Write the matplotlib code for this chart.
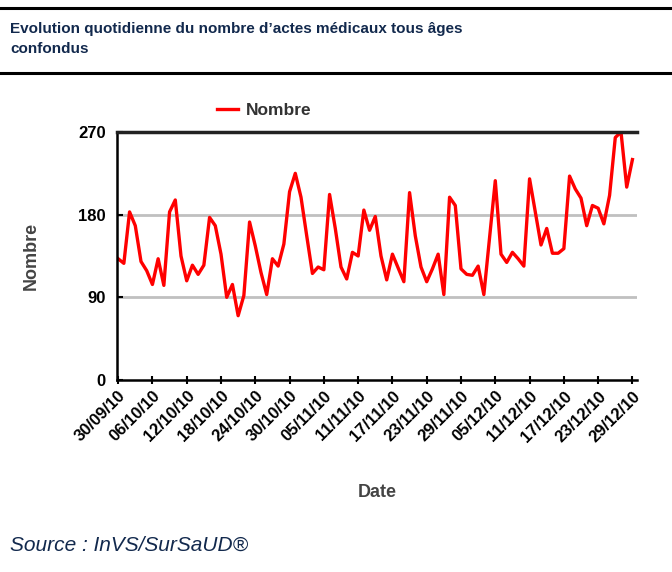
import matplotlib.pyplot as plt
import numpy as np

# daily counts, 30/09/10 -> 29/12/10
nombre = [132, 127, 183, 168, 129, 119, 104, 132, 103, 183,
          196, 135, 108, 125, 115, 125, 177, 168, 137, 90,
          104, 70, 92, 172, 146, 117, 93, 132, 124, 148,
          205, 225, 199, 157, 116, 123, 120, 202, 165, 123,
          110, 139, 135, 185, 163, 178, 135, 109, 137, 122,
          107, 204, 157, 123, 107, 121, 137, 93, 199, 190,
          121, 115, 114, 124, 93, 155, 217, 137, 128, 139,
          132, 124, 219, 183, 147, 165, 138, 138, 143, 222,
          208, 198, 168, 190, 187, 170, 201, 264, 270, 210,
          240]
date_labels = ['30/09/10', '06/10/10', '12/10/10', '18/10/10', '24/10/10',
               '30/10/10', '05/11/10', '11/11/10', '17/11/10', '23/11/10',
               '29/11/10', '05/12/10', '11/12/10', '17/12/10', '23/12/10',
               '29/12/10']
y_ticks = [0, 90, 180, 270]

plt.rcParams['font.family'] = ['Liberation Sans', 'DejaVu Sans']
navy = '#12294d'

fig = plt.figure(figsize=(6.72, 5.72), dpi=100)

# header rules and title
fig.add_artist(plt.Line2D([0, 1], [1 - 8 / 572, 1 - 8 / 572], color='black', lw=2.2))
fig.add_artist(plt.Line2D([0, 1], [1 - 73 / 572, 1 - 73 / 572], color='black', lw=2.2))
fig.text(10 / 672, 1 - 39 / 572,
         'Evolution quotidienne du nombre d\u2019actes médicaux tous âges\nconfondus',
         fontsize=11, fontweight='bold', color=navy, ha='left', va='center',
         linespacing=1.5)
fig.text(10 / 672, 1 - 545 / 572, 'Source : InVS/SurSaUD®', fontsize=15,
         style='italic', color=navy, ha='left', va='center')

ax = fig.add_axes([117 / 672, 1 - 380 / 572, 520 / 672, 248 / 572])
x = np.arange(len(nombre))
ax.plot(x, nombre, color='#ff0000', lw=2.4, label='Nombre')

ax.set_xlim(-0.2, 90.8)
ax.set_ylim(0, 270)
ax.set_yticks(y_ticks)
ax.set_yticklabels([str(v) for v in y_ticks], fontsize=12, fontweight='bold')
ax.set_xticks(np.arange(0, 91, 6))
ax.set_xticklabels(date_labels, rotation=45, ha='right', rotation_mode='anchor',
                   fontsize=12, fontweight='bold')
ax.tick_params(axis='x', direction='inout', length=6, width=1.5, pad=3)
ax.tick_params(axis='y', direction='in', length=4, width=1.5, pad=8)

for v in [90, 180]:
    ax.axhline(v, color='#c0c0c0', lw=2, zorder=0)
ax.spines['right'].set_visible(False)
ax.spines['top'].set_linewidth(2.5)
ax.spines['top'].set_color('#222222')
ax.spines['left'].set_linewidth(1.8)
ax.spines['bottom'].set_linewidth(1.8)

ax.set_ylabel('Nombre', fontsize=13, fontweight='bold', color='#444444', labelpad=28)
ax.set_xlabel('Date', fontsize=13, fontweight='bold', color='#444444', labelpad=28)

ax.legend(loc='center left', bbox_to_anchor=(217 / 672, 1 - 110 / 572),
          bbox_transform=fig.transFigure, frameon=False, borderpad=0,
          borderaxespad=0, handlelength=1.2, handletextpad=0.45,
          prop={'weight': 'bold', 'size': 12.5}, labelcolor='#333333')

fig.savefig('out.png', dpi=100)
